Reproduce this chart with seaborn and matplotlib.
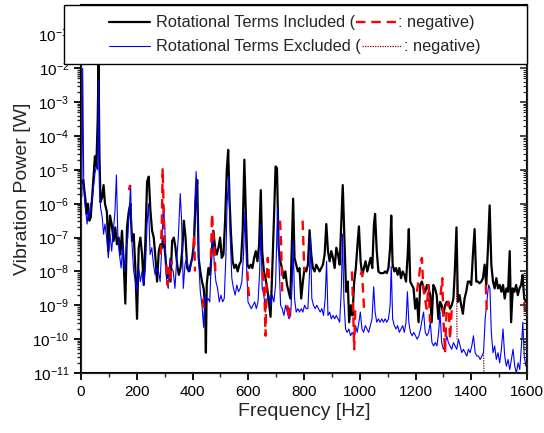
import numpy as np
import pandas as pd
import matplotlib
matplotlib.use("Agg")
import matplotlib.pyplot as plt
import seaborn as sns
from matplotlib.lines import Line2D
from matplotlib.patches import Rectangle
from matplotlib.ticker import LogLocator, MultipleLocator, NullFormatter

# Rotational terms included (black), log10 of power
freq_inc = [3, 8, 12, 16, 20, 25, 30, 35, 40, 45, 50, 55, 60, 63, 66, 70, 76, 81, 86, 93,
            98, 104, 110, 117, 123, 129, 135, 141, 147, 153, 159, 165, 171, 177, 183, 189, 195, 201, 207, 213,
            219, 225, 231, 237, 243, 249, 255, 261, 267, 273, 279, 285, 291, 297, 303, 309, 315, 321, 327, 333,
            339, 345, 351, 357, 363, 369, 375, 381, 387, 393, 399, 405, 411, 417, 422, 428, 434, 440, 445, 448,
            451, 457, 463, 469, 475, 481, 487, 493, 499, 505, 511, 517, 523, 528, 533, 538, 544, 550, 556, 562,
            568, 574, 580, 586, 591, 597, 603, 609, 615, 621, 627, 633, 639, 645, 650, 656, 662, 668, 674, 680,
            686, 692, 698, 703, 709, 715, 721, 727, 733, 739, 745, 751, 757, 761, 766, 772, 778, 784, 790, 796,
            802, 808, 814, 820, 826, 832, 838, 844, 850, 856, 862, 868, 874, 880, 886, 892, 898, 904, 910, 916,
            922, 928, 934, 939, 945, 951, 957, 962, 968, 974, 980, 986, 992, 997, 1003, 1009, 1015, 1021, 1027, 1033,
            1039, 1045, 1051, 1055, 1061, 1067, 1073, 1079, 1085, 1091, 1097, 1103, 1109, 1113, 1118, 1124, 1130, 1136, 1142, 1148,
            1154, 1160, 1166, 1172, 1176, 1181, 1187, 1193, 1199, 1205, 1211, 1217, 1223, 1229, 1235, 1241, 1247, 1253, 1258, 1264,
            1270, 1276, 1282, 1288, 1294, 1300, 1306, 1312, 1318, 1324, 1330, 1336, 1341, 1347, 1352, 1358, 1364, 1370, 1376, 1382,
            1388, 1394, 1400, 1406, 1412, 1418, 1424, 1430, 1436, 1442, 1448, 1454, 1460, 1466, 1472, 1478, 1484, 1490, 1496, 1502,
            1508, 1514, 1520, 1526, 1532, 1538, 1543, 1549, 1555, 1561, 1567, 1573, 1579, 1584, 1590, 1596]
logp_inc = [-5.4, -5.3, -5.6, -5.9, -6.3, -6.0, -6.5, -6.4, -5.8, -5.2, -4.6, -4.9, -3.5, -1.85, -4.5, -5.95, -5.8, -5.45, -6.0, -6.25,
            -7.4, -6.35, -6.6, -7.1, -6.7, -7.2, -7.0, -7.5, -6.8, -7.7, -8.95, -6.7, -6.25, -6.0, -7.1, -6.9, -7.9, -9.4, -7.3, -7.0,
            -7.5, -8.4, -7.1, -5.35, -5.2, -6.2, -6.8, -7.0, -7.6, -8.3, -7.4, -7.2, -7.3, -7.0, -7.6, -8.2, -7.9, -8.3, -7.1, -7.0,
            -7.3, -7.8, -8.1, -7.9, -7.4, -6.5, -7.0, -7.9, -8.0, -7.8, -7.6, -7.2, -6.0, -5.3, -7.6, -8.0, -8.3, -8.5, -9.0, -10.4,
            -8.4, -7.9, -8.1, -7.4, -6.8, -7.3, -7.5, -7.3, -7.0, -7.6, -7.5, -6.5, -5.0, -4.41, -5.9, -6.9, -7.7, -7.9, -7.8, -8.0,
            -7.8, -7.7, -6.8, -4.7, -6.2, -7.8, -7.9, -7.8, -7.9, -7.6, -7.4, -7.7, -7.2, -5.6, -7.4, -8.0, -8.2, -8.5, -8.9, -9.34,
            -8.0, -6.5, -4.9, -4.95, -7.3, -7.7, -7.9, -8.2, -8.0, -8.4, -8.6, -8.8, -7.0, -5.85, -7.6, -7.8, -8.0, -7.9, -8.8, -8.3,
            -7.9, -8.0, -7.8, -6.78, -7.5, -7.9, -8.0, -7.8, -7.9, -8.0, -7.9, -7.8, -7.5, -6.6, -7.4, -7.7, -7.4, -7.6, -7.9, -7.3,
            -7.5, -7.8, -6.5, -5.45, -7.0, -8.6, -8.3, -9.5, -9.0, -9.3, -8.3, -7.9, -7.2, -6.67, -7.7, -8.1, -7.9, -7.7, -8.0, -7.8,
            -7.6, -7.9, -6.6, -6.3, -7.4, -8.0, -8.05, -8.05, -8.05, -8.0, -8.05, -7.9, -7.3, -6.35, -7.8, -8.0, -7.9, -8.1, -7.9, -8.2,
            -8.0, -8.1, -8.3, -7.5, -6.75, -8.3, -8.4, -8.5, -9.1, -8.8, -9.5, -8.4, -8.3, -8.5, -8.6, -8.4, -8.5, -8.7, -9.5, -8.4,
            -8.5, -8.7, -9.4, -8.9, -9.0, -9.3, -9.0, -8.9, -8.9, -9.1, -9.0, -8.8, -8.0, -6.7, -8.9, -8.7, -9.0, -9.25, -8.8, -8.6,
            -8.3, -8.3, -8.4, -7.5, -6.75, -8.3, -8.3, -8.35, -8.3, -8.2, -7.8, -8.4, -7.3, -6.05, -7.8, -8.3, -8.5, -8.2, -8.5, -8.4,
            -8.6, -8.4, -8.8, -8.5, -8.6, -7.4, -9.5, -8.5, -8.6, -8.4, -8.7, -8.5, -8.4, -8.1, -8.8, -8.9]

# Rotational terms excluded (blue), log10 of power
freq_exc = [3, 6, 10, 14, 18, 22, 26, 30, 35, 40, 45, 50, 55, 60, 63, 66, 70, 76, 81, 86,
            92, 98, 104, 110, 116, 122, 127, 132, 138, 144, 150, 156, 162, 168, 174, 178, 183, 189, 195, 201,
            207, 213, 219, 225, 231, 237, 242, 248, 254, 260, 266, 272, 278, 284, 290, 296, 301, 307, 313, 319,
            325, 331, 337, 343, 349, 356, 361, 367, 373, 379, 385, 391, 397, 403, 408, 413, 418, 423, 428, 434,
            440, 444, 450, 456, 462, 468, 473, 478, 484, 490, 496, 502, 508, 514, 520, 524, 530, 535, 541, 547,
            553, 559, 565, 571, 577, 583, 588, 593, 599, 605, 611, 617, 623, 629, 635, 641, 645, 650, 656, 662,
            668, 674, 680, 686, 692, 698, 705, 710, 716, 722, 728, 734, 740, 746, 752, 758, 761, 766, 772, 778,
            784, 790, 796, 802, 808, 814, 820, 823, 828, 834, 840, 846, 852, 858, 864, 870, 876, 881, 886, 892,
            898, 904, 910, 916, 922, 928, 934, 938, 943, 949, 955, 961, 967, 973, 979, 985, 991, 997, 1002, 1008,
            1014, 1020, 1026, 1032, 1038, 1044, 1050, 1055, 1061, 1067, 1073, 1079, 1085, 1091, 1097, 1103, 1109, 1113, 1118, 1124,
            1130, 1136, 1142, 1148, 1154, 1160, 1166, 1171, 1176, 1182, 1188, 1194, 1200, 1206, 1212, 1218, 1224, 1229, 1235, 1241,
            1247, 1253, 1259, 1265, 1271, 1277, 1283, 1288, 1294, 1300, 1306, 1312, 1318, 1324, 1330, 1336, 1342, 1348, 1354, 1360,
            1366, 1372, 1378, 1384, 1390, 1396, 1402, 1408, 1414, 1420, 1426, 1432, 1438, 1444, 1450, 1456, 1462, 1467, 1472, 1478,
            1484, 1490, 1496, 1502, 1508, 1514, 1520, 1526, 1532, 1538, 1544, 1550, 1556, 1562, 1568, 1574, 1580, 1585, 1590, 1596]
logp_exc = [-5.8, -2.0, -5.5, -6.0, -6.3, -6.6, -6.2, -6.4, -6.0, -5.9, -5.5, -5.1, -4.9, -5.0, -2.35, -5.5, -6.1, -6.4, -6.9, -6.6,
            -7.0, -7.6, -6.9, -7.4, -6.8, -6.2, -5.15, -6.9, -7.5, -7.9, -7.2, -8.0, -7.3, -7.0, -6.1, -5.45, -7.2, -8.0, -8.3, -8.6,
            -7.9, -8.3, -8.0, -8.4, -7.9, -6.6, -6.0, -7.5, -7.3, -7.8, -8.1, -7.9, -8.0, -8.3, -7.2, -6.0, -6.8, -8.3, -8.5, -7.6,
            -7.9, -8.0, -8.5, -7.7, -7.0, -5.7, -6.5, -8.5, -7.8, -7.6, -7.9, -8.0, -7.7, -7.5, -6.0, -5.05, -6.1, -7.8, -8.6, -9.0,
            -9.65, -8.7, -8.9, -8.8, -8.9, -7.5, -6.8, -7.8, -8.3, -8.5, -8.9, -8.7, -8.9, -8.8, -7.5, -6.0, -5.2, -6.9, -8.2, -8.5,
            -8.7, -8.4, -8.6, -8.5, -8.3, -7.5, -6.25, -7.6, -8.9, -9.0, -9.1, -9.0, -8.9, -9.1, -8.9, -8.0, -6.6, -8.5, -8.7, -9.2,
            -8.8, -8.7, -9.0, -8.7, -8.9, -8.4, -6.1, -7.6, -9.0, -9.1, -9.3, -9.0, -9.2, -9.4, -9.3, -8.3, -7.1, -8.8, -9.2, -9.1,
            -9.2, -9.1, -9.2, -9.0, -9.1, -9.1, -8.0, -6.95, -8.8, -9.0, -9.1, -9.0, -9.1, -9.2, -9.1, -9.3, -8.8, -7.7, -9.3, -9.2,
            -9.4, -9.3, -9.4, -9.3, -9.4, -9.5, -8.5, -6.9, -8.8, -9.7, -9.8, -9.7, -9.9, -9.8, -9.9, -9.6, -9.8, -9.5, -9.2, -9.7,
            -9.8, -9.6, -9.7, -9.8, -9.6, -9.4, -8.45, -9.2, -9.5, -9.4, -9.5, -9.4, -9.5, -9.4, -9.5, -9.4, -9.0, -7.85, -9.4, -9.6,
            -9.7, -9.6, -9.8, -9.7, -9.6, -9.8, -9.5, -8.6, -9.5, -9.8, -9.9, -9.8, -9.9, -10.0, -9.9, -9.7, -9.4, -9.2, -9.8, -9.9,
            -9.8, -9.5, -10.1, -10.2, -10.1, -10.2, -9.8, -9.2, -10.1, -10.3, -10.2, -9.9, -10.1, -10.2, -10.3, -10.1, -10.2, -10.3, -10.0, -10.2,
            -10.4, -10.3, -10.4, -10.5, -10.3, -10.4, -10.2, -9.9, -10.4, -10.5, -10.5, -10.6, -10.5, -10.4, -9.4, -8.9, -8.4, -8.5, -9.8, -10.4,
            -10.2, -10.6, -10.4, -10.7, -10.3, -9.7, -10.5, -10.8, -10.6, -10.9, -10.6, -10.3, -10.8, -11.0, -10.7, -10.9, -10.2, -9.5, -10.5, -10.8]

# negative parts, included (red dashed), one id per segment
neg_inc_seg = [1, 1, 2, 2, 2, 2, 2, 3, 3, 3, 3, 3, 4, 4, 4, 5, 5, 5, 6, 6, 6, 6, 6,
               7, 7, 7, 8, 8, 8, 8, 8, 8, 9, 9, 9, 10, 10, 10, 11, 11, 11,
               12, 12, 12, 12, 13, 13, 13, 13, 14, 14, 14, 14, 14, 14, 14, 14, 14,
               15, 15, 15, 15, 15, 15, 15, 15, 16, 16, 17, 17]
neg_inc_freq = [172, 176, 286, 290, 293, 296, 300, 306, 311, 316, 321, 326, 403, 406, 409, 436, 441, 446,
                466, 470, 474, 478, 482, 597, 600, 604, 652, 658, 662, 666, 670, 675, 714, 718, 722,
                740, 746, 750, 795, 798, 801, 972, 976, 980, 984, 1003, 1008, 1012, 1016,
                1205, 1212, 1218, 1223, 1228, 1234, 1240, 1247, 1252,
                1290, 1296, 1300, 1306, 1312, 1318, 1324, 1330, 1452, 1456, 1590, 1595]
neg_inc_logp = [-5.6, -5.45, -7.5, -6.5, -4.95, -6.0, -7.2, -7.8, -8.4, -7.9, -8.2, -7.7, -7.3, -6.9, -8.0,
                -8.8, -9.1, -9.0, -7.6, -6.3, -6.8, -7.2, -8.0, -8.0, -8.5, -8.8, -8.0, -8.6, -9.9, -8.3, -7.6, -8.2,
                -6.5, -7.2, -8.6, -9.0, -9.4, -8.9, -6.5, -7.2, -8.0, -8.0, -9.0, -10.3, -9.1, -8.1, -8.0, -8.6, -9.2,
                -8.6, -8.2, -7.8, -7.6, -8.5, -8.8, -9.1, -8.4, -9.5,
                -8.7, -8.2, -9.4, -10.4, -9.0, -8.9, -10.0, -9.1, -8.4, -9.2, -8.9, -9.3]

# negative parts, excluded (dark red dotted)
neg_exc_seg = [1, 1, 2, 2, 3, 3]
neg_exc_freq = [3, 6, 1347, 1349, 1444, 1446]
neg_exc_logp = [-5.45, -5.6, -8.2, -10.0, -10.4, -11.2]

sns.set_style("ticks")
plt.rcParams['font.family'] = ['Liberation Sans', 'DejaVu Sans']
plt.rcParams['mathtext.fontset'] = 'custom'
plt.rcParams['mathtext.rm'] = 'Liberation Sans'
plt.rcParams['mathtext.it'] = 'Liberation Sans:italic'
plt.rcParams['mathtext.default'] = 'regular'

inc = pd.DataFrame({'freq': freq_inc, 'power': 10 ** np.array(logp_inc)})
exc = pd.DataFrame({'freq': freq_exc, 'power': 10 ** np.array(logp_exc)})
neg_inc = pd.DataFrame({'seg': neg_inc_seg, 'freq': neg_inc_freq, 'power': 10 ** np.array(neg_inc_logp)})
neg_exc = pd.DataFrame({'seg': neg_exc_seg, 'freq': neg_exc_freq, 'power': 10 ** np.array(neg_exc_logp)})

fig = plt.figure(figsize=(5.44, 4.33), dpi=100)
ax = fig.add_axes([81 / 544, 1 - 373 / 433, 446 / 544, 368 / 433])
ax.set_yscale('log')

sns.lineplot(data=inc, x='freq', y='power', ax=ax, color='black', lw=1.6, estimator=None, sort=False)
sns.lineplot(data=exc, x='freq', y='power', ax=ax, color='#0000ff', lw=0.8, estimator=None, sort=False)
sns.lineplot(data=neg_inc, x='freq', y='power', units='seg', ax=ax, color='red', lw=1.7,
             linestyle=(0, (4, 2.5)), estimator=None, sort=False)
sns.lineplot(data=neg_exc, x='freq', y='power', units='seg', ax=ax, color='#8b0000', lw=0.9,
             linestyle=(0, (1, 1)), estimator=None, sort=False)

ax.set_xlim(0, 1600)
ax.set_ylim(1e-11, 10 ** -0.13)
ax.xaxis.set_major_locator(MultipleLocator(200))
ax.xaxis.set_minor_locator(MultipleLocator(100))
ax.yaxis.set_major_locator(LogLocator(base=10, numticks=30))
ax.yaxis.set_minor_locator(LogLocator(base=10, subs=np.arange(2, 10), numticks=30))
ax.yaxis.set_minor_formatter(NullFormatter())
ax.tick_params(which='major', direction='out', length=5, width=1.3, labelsize=11, colors='black')
ax.tick_params(which='minor', direction='out', length=3, width=1.0)
for s in ax.spines.values():
    s.set_linewidth(1.5)
    s.set_color('black')

twin = ax.twinx()
twin.set_yscale('log')
twin.set_ylim(ax.get_ylim())
twin.yaxis.set_major_locator(LogLocator(base=10, numticks=30))
twin.yaxis.set_minor_locator(LogLocator(base=10, subs=np.arange(2, 10), numticks=30))
twin.tick_params(which='both', direction='in', labelright=False)
twin.tick_params(which='major', length=5, width=1.2)
twin.tick_params(which='minor', length=3, width=0.8)

ax.set_xlabel('Frequency [Hz]', fontsize=14, labelpad=3)
ax.set_ylabel('Vibration Power [W]', fontsize=14, labelpad=1)

# legend box drawn by hand (inline dash samples inside the labels)
W, H = 544, 433
box = Rectangle((63.5 / W, 1 - 63.5 / H), (527 - 63.5) / W, 58.5 / H, transform=fig.transFigure,
                facecolor='white', edgecolor='black', lw=1.0, zorder=5)
fig.add_artist(box)

fig.canvas.draw()
renderer = fig.canvas.get_renderer()
rows = [(22, 'black', 1.6, '-', 'Rotational Terms Included (', 'red', 1.7, (0, (4, 2.5))),
        (46, '#0000ff', 0.8, '-', 'Rotational Terms Excluded (', '#8b0000', 0.9, (0, (1, 1)))]
for ypix, hc, hlw, hls, label, ic, ilw, ils in rows:
    yf = 1 - ypix / H
    fig.add_artist(Line2D([109 / W, 150 / W], [yf, yf], transform=fig.transFigure,
                          color=hc, lw=hlw, ls=hls, zorder=6))
    t = fig.text(156 / W, yf, label, fontsize=11.8, va='center', ha='left', zorder=6)
    bb = t.get_window_extent(renderer)
    x1 = bb.x1 + 1
    fig.add_artist(Line2D([x1 / W, (x1 + 40) / W], [yf, yf], transform=fig.transFigure,
                          color=ic, lw=ilw, ls=ils, zorder=6))
    fig.text((x1 + 42) / W, yf, ': negative)', fontsize=11.8, va='center', ha='left', zorder=6)

fig.savefig('out.png', dpi=100)
